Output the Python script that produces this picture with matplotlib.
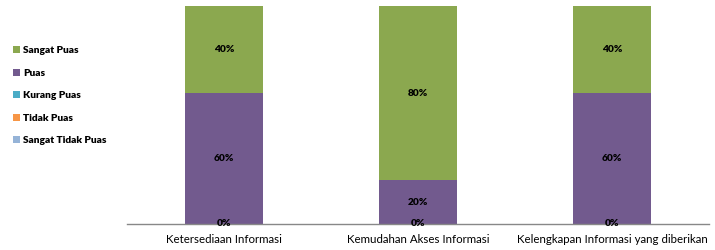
import matplotlib
matplotlib.use("Agg")
import matplotlib.pyplot as plt
import numpy as np

plt.rcParams['font.family'] = ['Lato', 'DejaVu Sans']

categories = ["Ketersediaan Informasi", "Kemudahan Akses Informasi", "Kelengkapan Informasi yang diberikan"]
series_names = ["Sangat Tidak Puas", "Tidak Puas", "Kurang Puas", "Puas", "Sangat Puas"]
sangat_tidak_puas = [0, 0, 0]
tidak_puas = [0, 0, 0]
kurang_puas = [0, 0, 0]
puas = [60, 20, 60]
sangat_puas = [40, 80, 40]
colors = ["#95B3D7", "#F79646", "#4BACC6", "#725A8E", "#8BA84F"]

values = [sangat_tidak_puas, tidak_puas, kurang_puas, puas, sangat_puas]

fig = plt.figure(figsize=(7.15, 2.5), dpi=100)
ax = fig.add_axes([127/715, 26/250, 582/715, 218/250])

x = np.arange(len(categories))
bottom = np.zeros(len(categories))
handles = []
for name, vals, col in zip(series_names, values, colors):
    vals = np.array(vals, dtype=float)
    h = ax.bar(x, vals, 0.4, bottom=bottom, color=col, label=name, zorder=2)
    handles.append(h)
    for xi, v, b in zip(x, vals, bottom):
        if v > 0:
            ax.text(xi, b + v / 2, f"{int(v)}%", ha='center', va='center',
                    fontsize=7.3, fontweight='heavy', color='black', zorder=4)
        elif name == "Sangat Tidak Puas":
            ax.text(xi, b, f"{int(v)}%", ha='center', va='center',
                    fontsize=7.3, fontweight='heavy', color='black', zorder=4)
    bottom += vals

ax.set_xlim(-0.5, 2.5)
ax.set_ylim(0, 100)
ax.set_yticks([])
ax.set_xticks(x)
ax.set_xticklabels(categories, fontsize=8.3)
ax.tick_params(axis='x', length=0, pad=7)
for s in ['top', 'right', 'left']:
    ax.spines[s].set_visible(False)
ax.spines['bottom'].set_color('#888888')
ax.spines['bottom'].set_linewidth(1)

leg = fig.legend(handles[::-1], series_names[::-1], loc='upper left',
                 bbox_to_anchor=(4/715, 1 - 37/250), frameon=False,
                 prop={'size': 7.3, 'weight': 'heavy'}, handlelength=0.7,
                 handleheight=0.7, handletextpad=0.3, labelspacing=1.32)

fig.savefig("out.png", dpi=100)
